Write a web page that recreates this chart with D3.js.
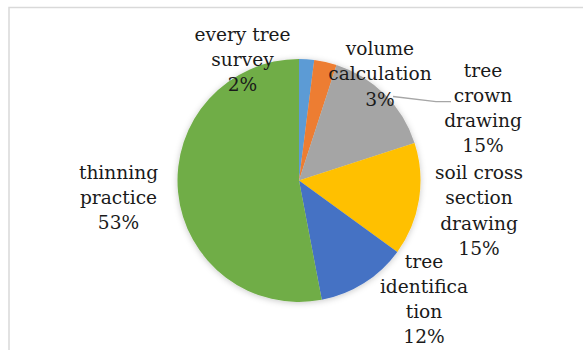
<!DOCTYPE html>
<html>
<head>
<meta charset="utf-8">
<script src="https://cdn.jsdelivr.net/npm/d3@7"></script>
<style>
  html, body { margin: 0; padding: 0; background: #fff; }
  svg { display: block; }
</style>
</head>
<body>
<svg id="chart" width="583" height="350"></svg>
<script>
// Share of field practice activities
const categories = ["every tree survey", "volume calculation", "tree crown drawing",
                    "soil cross section drawing", "tree identification", "thinning practice"];
const values = [2, 3, 15, 15, 12, 53];
const colors = ["#5B9BD5", "#ED7D31", "#A5A5A5", "#FFC000", "#4472C4", "#70AD47"];
// Wrapped label lines, as laid out beside each slice
const labelLines = [
  ["every tree", "survey", "2%"],
  ["volume", "calculation", "3%"],
  ["tree", "crown", "drawing", "15%"],
  ["soil cross", "section", "drawing", "15%"],
  ["tree", "identifica", "tion", "12%"],
  ["thinning", "practice", "53%"]
];

const svg = d3.select("#chart");
const W = 583, H = 350;

// chart area frame
svg.append("rect")
  .attr("x", 9).attr("y", 7.5)
  .attr("width", W + 20).attr("height", H + 20)
  .attr("fill", "#fff")
  .attr("stroke", "#d9d9d9").attr("stroke-width", 1.5);

const defs = svg.append("defs");
const f = defs.append("filter").attr("id", "soft")
  .attr("x", "-20%").attr("y", "-20%").attr("width", "140%").attr("height", "140%");
f.append("feDropShadow")
  .attr("dx", 0).attr("dy", 1).attr("stdDeviation", 3)
  .attr("flood-color", "#000").attr("flood-opacity", 0.22);

const cx = 299, cy = 180.5, r = 121.5;

const pie = d3.pie().sort(null).value(d => d)(values);
const arc = d3.arc().innerRadius(0).outerRadius(r);

const g = svg.append("g").attr("transform", `translate(${cx},${cy})`);
g.append("g").attr("filter", "url(#soft)")
  .selectAll("path")
  .data(pie)
  .join("path")
  .attr("d", arc)
  .attr("fill", (d, i) => colors[i]);

// leader line for the crown drawing label
svg.append("polyline")
  .attr("points", "393,96.5 436,101.7 451,101.7")
  .attr("fill", "none")
  .attr("stroke", "#a6a6a6")
  .attr("stroke-width", 1.3);

// label anchors: centre x, first baseline
const labelPos = [
  [242.5, 40.7],
  [380, 55],
  [483, 76.5],
  [479, 179],
  [424, 267.5],
  [118.5, 178.5]
];
const lineH = 25.3;

const labels = svg.append("g")
  .attr("font-family", "'DejaVu Serif', serif")
  .attr("font-size", 18.6)
  .attr("fill", "#1a1a1a")
  .attr("text-anchor", "middle");

labelLines.forEach((lines, i) => {
  const t = labels.append("text")
    .attr("x", labelPos[i][0])
    .attr("y", labelPos[i][1]);
  lines.forEach((ln, j) => {
    t.append("tspan")
      .attr("x", labelPos[i][0])
      .attr("dy", j === 0 ? 0 : lineH)
      .text(ln);
  });
});
</script>
</body>
</html>
